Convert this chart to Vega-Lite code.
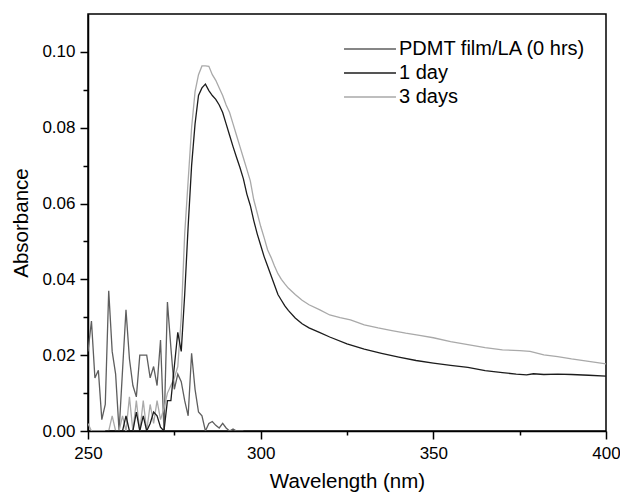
{
  "$schema": "https://vega.github.io/schema/vega-lite/v6.json",
  "width": 518,
  "height": 417,
  "autosize": {"type": "none"},
  "padding": {"left": 88, "top": 14, "right": 14, "bottom": 61},
  "background": "white",
  "config": {
    "font": "Liberation Sans",
    "view": {"stroke": "black", "strokeWidth": 1.5},
    "axis": {
      "grid": false,
      "domainColor": "black",
      "domainWidth": 1.5,
      "tickColor": "black",
      "tickWidth": 1.5,
      "labelColor": "black",
      "labelFontSize": 17,
      "titleColor": "black",
      "titleFontSize": 20.5,
      "titleFontWeight": "normal"
    }
  },
  "data": {
    "values": [
      {"w": 250, "a": 0.021, "s": "PDMT film/LA (0 hrs)"},
      {"w": 251, "a": 0.029, "s": "PDMT film/LA (0 hrs)"},
      {"w": 252, "a": 0.014, "s": "PDMT film/LA (0 hrs)"},
      {"w": 253, "a": 0.016, "s": "PDMT film/LA (0 hrs)"},
      {"w": 254, "a": 0.003, "s": "PDMT film/LA (0 hrs)"},
      {"w": 255, "a": 0.007, "s": "PDMT film/LA (0 hrs)"},
      {"w": 256, "a": 0.037, "s": "PDMT film/LA (0 hrs)"},
      {"w": 257, "a": 0.021, "s": "PDMT film/LA (0 hrs)"},
      {"w": 258, "a": 0.015, "s": "PDMT film/LA (0 hrs)"},
      {"w": 259, "a": 0.0, "s": "PDMT film/LA (0 hrs)"},
      {"w": 260, "a": 0.016, "s": "PDMT film/LA (0 hrs)"},
      {"w": 261, "a": 0.032, "s": "PDMT film/LA (0 hrs)"},
      {"w": 262, "a": 0.019, "s": "PDMT film/LA (0 hrs)"},
      {"w": 263, "a": 0.012, "s": "PDMT film/LA (0 hrs)"},
      {"w": 264, "a": 0.009, "s": "PDMT film/LA (0 hrs)"},
      {"w": 265, "a": 0.020, "s": "PDMT film/LA (0 hrs)"},
      {"w": 266, "a": 0.020, "s": "PDMT film/LA (0 hrs)"},
      {"w": 267, "a": 0.020, "s": "PDMT film/LA (0 hrs)"},
      {"w": 268, "a": 0.014, "s": "PDMT film/LA (0 hrs)"},
      {"w": 269, "a": 0.017, "s": "PDMT film/LA (0 hrs)"},
      {"w": 270, "a": 0.012, "s": "PDMT film/LA (0 hrs)"},
      {"w": 271, "a": 0.024, "s": "PDMT film/LA (0 hrs)"},
      {"w": 272, "a": 0.0, "s": "PDMT film/LA (0 hrs)"},
      {"w": 273, "a": 0.034, "s": "PDMT film/LA (0 hrs)"},
      {"w": 274, "a": 0.022, "s": "PDMT film/LA (0 hrs)"},
      {"w": 275, "a": 0.011, "s": "PDMT film/LA (0 hrs)"},
      {"w": 276, "a": 0.015, "s": "PDMT film/LA (0 hrs)"},
      {"w": 277, "a": 0.013, "s": "PDMT film/LA (0 hrs)"},
      {"w": 278, "a": 0.008, "s": "PDMT film/LA (0 hrs)"},
      {"w": 279, "a": 0.004, "s": "PDMT film/LA (0 hrs)"},
      {"w": 280, "a": 0.0205, "s": "PDMT film/LA (0 hrs)"},
      {"w": 281, "a": 0.011, "s": "PDMT film/LA (0 hrs)"},
      {"w": 282, "a": 0.005, "s": "PDMT film/LA (0 hrs)"},
      {"w": 283, "a": 0.004, "s": "PDMT film/LA (0 hrs)"},
      {"w": 284, "a": 0.0, "s": "PDMT film/LA (0 hrs)"},
      {"w": 285, "a": 0.002, "s": "PDMT film/LA (0 hrs)"},
      {"w": 286, "a": 0.0025, "s": "PDMT film/LA (0 hrs)"},
      {"w": 287, "a": 0.0015, "s": "PDMT film/LA (0 hrs)"},
      {"w": 288, "a": 0.0008, "s": "PDMT film/LA (0 hrs)"},
      {"w": 289, "a": 0.002, "s": "PDMT film/LA (0 hrs)"},
      {"w": 290, "a": 0.0008, "s": "PDMT film/LA (0 hrs)"},
      {"w": 291, "a": 0.0, "s": "PDMT film/LA (0 hrs)"},
      {"w": 292, "a": 0.0005, "s": "PDMT film/LA (0 hrs)"},
      {"w": 293, "a": 0.0, "s": "PDMT film/LA (0 hrs)"},
      {"w": 295, "a": 0.0, "s": "PDMT film/LA (0 hrs)"},

      {"w": 250, "a": 0.002, "s": "3 days"},
      {"w": 251, "a": 0.0, "s": "3 days"},
      {"w": 256, "a": 0.0, "s": "3 days"},
      {"w": 257, "a": 0.004, "s": "3 days"},
      {"w": 258, "a": 0.0, "s": "3 days"},
      {"w": 259, "a": 0.0, "s": "3 days"},
      {"w": 260, "a": 0.004, "s": "3 days"},
      {"w": 261, "a": 0.0, "s": "3 days"},
      {"w": 262, "a": 0.009, "s": "3 days"},
      {"w": 263, "a": 0.0, "s": "3 days"},
      {"w": 264, "a": 0.008, "s": "3 days"},
      {"w": 265, "a": 0.0, "s": "3 days"},
      {"w": 266, "a": 0.008, "s": "3 days"},
      {"w": 267, "a": 0.0, "s": "3 days"},
      {"w": 268, "a": 0.007, "s": "3 days"},
      {"w": 269, "a": 0.002, "s": "3 days"},
      {"w": 270, "a": 0.008, "s": "3 days"},
      {"w": 271, "a": 0.003, "s": "3 days"},
      {"w": 272, "a": 0.006, "s": "3 days"},
      {"w": 273, "a": 0.010, "s": "3 days"},
      {"w": 274, "a": 0.012, "s": "3 days"},
      {"w": 275, "a": 0.014, "s": "3 days"},
      {"w": 276, "a": 0.017, "s": "3 days"},
      {"w": 277, "a": 0.030, "s": "3 days"},
      {"w": 278, "a": 0.052, "s": "3 days"},
      {"w": 279, "a": 0.066, "s": "3 days"},
      {"w": 280, "a": 0.080, "s": "3 days"},
      {"w": 281, "a": 0.0895, "s": "3 days"},
      {"w": 282, "a": 0.094, "s": "3 days"},
      {"w": 283, "a": 0.0963, "s": "3 days"},
      {"w": 284, "a": 0.0963, "s": "3 days"},
      {"w": 285, "a": 0.0962, "s": "3 days"},
      {"w": 286, "a": 0.094, "s": "3 days"},
      {"w": 287, "a": 0.0925, "s": "3 days"},
      {"w": 288, "a": 0.0905, "s": "3 days"},
      {"w": 289, "a": 0.0885, "s": "3 days"},
      {"w": 290, "a": 0.086, "s": "3 days"},
      {"w": 291, "a": 0.084, "s": "3 days"},
      {"w": 292, "a": 0.081, "s": "3 days"},
      {"w": 293, "a": 0.078, "s": "3 days"},
      {"w": 294, "a": 0.075, "s": "3 days"},
      {"w": 295, "a": 0.072, "s": "3 days"},
      {"w": 296, "a": 0.069, "s": "3 days"},
      {"w": 297, "a": 0.066, "s": "3 days"},
      {"w": 298, "a": 0.061, "s": "3 days"},
      {"w": 299, "a": 0.0575, "s": "3 days"},
      {"w": 300, "a": 0.054, "s": "3 days"},
      {"w": 301, "a": 0.051, "s": "3 days"},
      {"w": 302, "a": 0.0478, "s": "3 days"},
      {"w": 303, "a": 0.0458, "s": "3 days"},
      {"w": 304, "a": 0.0435, "s": "3 days"},
      {"w": 305, "a": 0.0415, "s": "3 days"},
      {"w": 306, "a": 0.040, "s": "3 days"},
      {"w": 307, "a": 0.0388, "s": "3 days"},
      {"w": 308, "a": 0.0377, "s": "3 days"},
      {"w": 310, "a": 0.036, "s": "3 days"},
      {"w": 312, "a": 0.0345, "s": "3 days"},
      {"w": 314, "a": 0.0333, "s": "3 days"},
      {"w": 317, "a": 0.032, "s": "3 days"},
      {"w": 320, "a": 0.0306, "s": "3 days"},
      {"w": 323, "a": 0.0299, "s": "3 days"},
      {"w": 326, "a": 0.0293, "s": "3 days"},
      {"w": 330, "a": 0.028, "s": "3 days"},
      {"w": 334, "a": 0.0272, "s": "3 days"},
      {"w": 338, "a": 0.0265, "s": "3 days"},
      {"w": 342, "a": 0.0258, "s": "3 days"},
      {"w": 346, "a": 0.0252, "s": "3 days"},
      {"w": 350, "a": 0.0246, "s": "3 days"},
      {"w": 355, "a": 0.0236, "s": "3 days"},
      {"w": 360, "a": 0.0228, "s": "3 days"},
      {"w": 365, "a": 0.022, "s": "3 days"},
      {"w": 370, "a": 0.0214, "s": "3 days"},
      {"w": 375, "a": 0.0212, "s": "3 days"},
      {"w": 378, "a": 0.021, "s": "3 days"},
      {"w": 382, "a": 0.0201, "s": "3 days"},
      {"w": 386, "a": 0.0196, "s": "3 days"},
      {"w": 390, "a": 0.019, "s": "3 days"},
      {"w": 394, "a": 0.0185, "s": "3 days"},
      {"w": 397, "a": 0.0181, "s": "3 days"},
      {"w": 400, "a": 0.0177, "s": "3 days"},

      {"w": 255, "a": 0.0, "s": "1 day"},
      {"w": 260, "a": 0.0, "s": "1 day"},
      {"w": 261, "a": 0.004, "s": "1 day"},
      {"w": 262, "a": 0.0, "s": "1 day"},
      {"w": 263, "a": 0.0, "s": "1 day"},
      {"w": 264, "a": 0.005, "s": "1 day"},
      {"w": 265, "a": 0.0, "s": "1 day"},
      {"w": 266, "a": 0.004, "s": "1 day"},
      {"w": 267, "a": 0.0, "s": "1 day"},
      {"w": 268, "a": 0.002, "s": "1 day"},
      {"w": 269, "a": 0.005, "s": "1 day"},
      {"w": 270, "a": 0.004, "s": "1 day"},
      {"w": 271, "a": 0.001, "s": "1 day"},
      {"w": 272, "a": 0.0, "s": "1 day"},
      {"w": 273, "a": 0.008, "s": "1 day"},
      {"w": 274, "a": 0.008, "s": "1 day"},
      {"w": 275, "a": 0.017, "s": "1 day"},
      {"w": 276, "a": 0.026, "s": "1 day"},
      {"w": 277, "a": 0.021, "s": "1 day"},
      {"w": 278, "a": 0.036, "s": "1 day"},
      {"w": 279, "a": 0.054, "s": "1 day"},
      {"w": 280, "a": 0.070, "s": "1 day"},
      {"w": 281, "a": 0.081, "s": "1 day"},
      {"w": 282, "a": 0.0885, "s": "1 day"},
      {"w": 283, "a": 0.0905, "s": "1 day"},
      {"w": 284, "a": 0.0915, "s": "1 day"},
      {"w": 285, "a": 0.0898, "s": "1 day"},
      {"w": 286, "a": 0.0885, "s": "1 day"},
      {"w": 287, "a": 0.0875, "s": "1 day"},
      {"w": 288, "a": 0.086, "s": "1 day"},
      {"w": 289, "a": 0.084, "s": "1 day"},
      {"w": 290, "a": 0.081, "s": "1 day"},
      {"w": 291, "a": 0.078, "s": "1 day"},
      {"w": 292, "a": 0.075, "s": "1 day"},
      {"w": 293, "a": 0.0722, "s": "1 day"},
      {"w": 294, "a": 0.0695, "s": "1 day"},
      {"w": 295, "a": 0.0665, "s": "1 day"},
      {"w": 296, "a": 0.0625, "s": "1 day"},
      {"w": 297, "a": 0.0595, "s": "1 day"},
      {"w": 298, "a": 0.0555, "s": "1 day"},
      {"w": 299, "a": 0.052, "s": "1 day"},
      {"w": 300, "a": 0.049, "s": "1 day"},
      {"w": 301, "a": 0.046, "s": "1 day"},
      {"w": 302, "a": 0.0435, "s": "1 day"},
      {"w": 303, "a": 0.041, "s": "1 day"},
      {"w": 304, "a": 0.0385, "s": "1 day"},
      {"w": 305, "a": 0.036, "s": "1 day"},
      {"w": 306, "a": 0.0345, "s": "1 day"},
      {"w": 307, "a": 0.033, "s": "1 day"},
      {"w": 308, "a": 0.0318, "s": "1 day"},
      {"w": 310, "a": 0.0298, "s": "1 day"},
      {"w": 312, "a": 0.0283, "s": "1 day"},
      {"w": 314, "a": 0.0272, "s": "1 day"},
      {"w": 317, "a": 0.026, "s": "1 day"},
      {"w": 320, "a": 0.0248, "s": "1 day"},
      {"w": 325, "a": 0.023, "s": "1 day"},
      {"w": 330, "a": 0.0216, "s": "1 day"},
      {"w": 335, "a": 0.0205, "s": "1 day"},
      {"w": 340, "a": 0.0195, "s": "1 day"},
      {"w": 345, "a": 0.0186, "s": "1 day"},
      {"w": 350, "a": 0.0179, "s": "1 day"},
      {"w": 355, "a": 0.0173, "s": "1 day"},
      {"w": 360, "a": 0.0168, "s": "1 day"},
      {"w": 365, "a": 0.0159, "s": "1 day"},
      {"w": 370, "a": 0.0154, "s": "1 day"},
      {"w": 374, "a": 0.015, "s": "1 day"},
      {"w": 377, "a": 0.0148, "s": "1 day"},
      {"w": 379, "a": 0.0151, "s": "1 day"},
      {"w": 382, "a": 0.0149, "s": "1 day"},
      {"w": 386, "a": 0.015, "s": "1 day"},
      {"w": 390, "a": 0.0149, "s": "1 day"},
      {"w": 395, "a": 0.0147, "s": "1 day"},
      {"w": 400, "a": 0.0145, "s": "1 day"}
    ]
  },
  "mark": {"type": "line", "strokeWidth": 1.3, "clip": true, "interpolate": "linear"},
  "encoding": {
    "x": {
      "field": "w",
      "type": "quantitative",
      "scale": {"domain": [250, 400], "nice": false, "zero": false},
      "axis": {
        "title": "Wavelength (nm)",
        "values": [250, 275, 300, 325, 350, 375, 400],
        "labelExpr": "datum.value % 50 == 0 ? datum.label : ''",
        "tickSize": {"condition": {"test": "datum.value % 50 == 0", "value": 8}, "value": 4},
        "labelPadding": 6,
        "titlePadding": 10,
        "labelFlush": false
      }
    },
    "y": {
      "field": "a",
      "type": "quantitative",
      "scale": {"domain": [0, 0.11], "nice": false},
      "axis": {
        "title": "Absorbance",
        "values": [0, 0.01, 0.02, 0.03, 0.04, 0.05, 0.06, 0.07, 0.08, 0.09, 0.1],
        "labelExpr": "round(datum.value * 100) % 2 == 0 ? format(datum.value, '.2f') : ''",
        "tickSize": {"condition": {"test": "round(datum.value * 100) % 2 == 0", "value": 8}, "value": 5},
        "labelPadding": 5,
        "titlePadding": 10,
        "labelFlush": false
      }
    },
    "color": {
      "field": "s",
      "type": "nominal",
      "scale": {
        "domain": ["PDMT film/LA (0 hrs)", "1 day", "3 days"],
        "range": ["#5e5e5e", "#1c1c1c", "#a9a9a9"]
      },
      "legend": {
        "title": null,
        "orient": "none",
        "legendX": 272,
        "legendY": 25,
        "symbolType": "M-5,0L5,0",
        "symbolSize": 108,
        "symbolStrokeWidth": 1.3,
        "labelFontSize": 20,
        "labelColor": "black",
        "labelLimit": 0,
        "labelOffset": 19,
        "rowPadding": 4,
        "padding": 0
      }
    }
  }
}
